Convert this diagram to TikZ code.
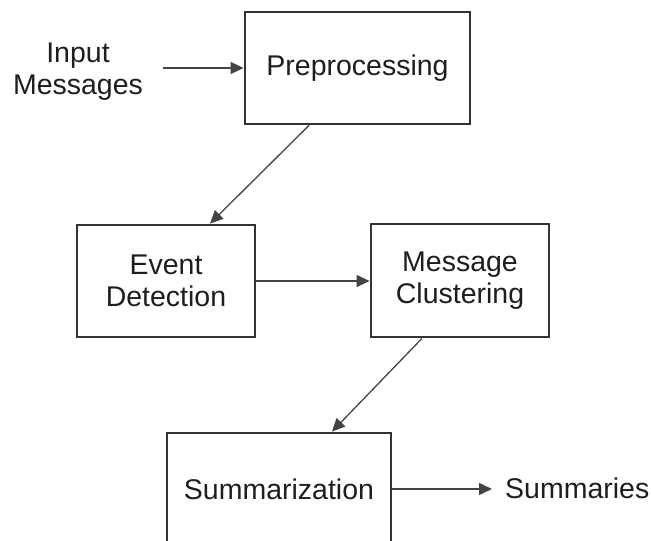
\documentclass[tikz,border=0pt]{standalone}
\usepackage{fontspec}
\setmainfont{Liberation Sans}
\usetikzlibrary{arrows.meta,calc}
\definecolor{boxline}{HTML}{333333}
\definecolor{arrline}{HTML}{444444}
\definecolor{txt}{HTML}{1E1E1E}
\tikzset{
  procbox/.style={draw=boxline, line width=2.8pt, inner sep=0pt, text=txt,
    font=\fontsize{28.5}{32}\selectfont, align=center},
  plain/.style={inner sep=0pt, text=txt, font=\fontsize{28.5}{32}\selectfont, align=center},
  arr/.style={draw=arrline, line width=1.3pt, -{Triangle[length=13pt,width=12pt]}}
}
\begin{document}
\begin{tikzpicture}[x=1pt,y=-1pt]
\useasboundingbox (0,0) rectangle (651,541);
\clip (0,0) rectangle (651,541);
\node[procbox, minimum width=225pt, minimum height=112pt] (pre) at (357.5,68) {Preprocessing};
\node[procbox, minimum width=178pt, minimum height=112pt] (ed) at (166,281) {Event\\Detection};
\node[procbox, minimum width=178pt, minimum height=113pt] (mc) at (460,280.5) {Message\\Clustering};
\node[procbox, minimum width=224pt, minimum height=112pt] (sum) at (279,489) {Summarization};
\node[plain] (inp) at (78,72) {Input\\Messages};
\node[plain, anchor=west] (out) at (505,488) {Summaries};
\draw[arr] ([xshift=20pt]inp.east |- pre.west) -- (pre.west);
\draw[arr] ([xshift=-48.5pt]pre.south) -- ([xshift=44pt]ed.north);
\draw[arr] (ed.east) -- (mc.west |- ed.east);
\draw[arr] ([xshift=-38pt]mc.south) -- ([xshift=53pt]sum.north);
\draw[arr] (sum.east) -- ([xshift=-13pt]out.west |- sum.east);
\end{tikzpicture}
\end{document}
